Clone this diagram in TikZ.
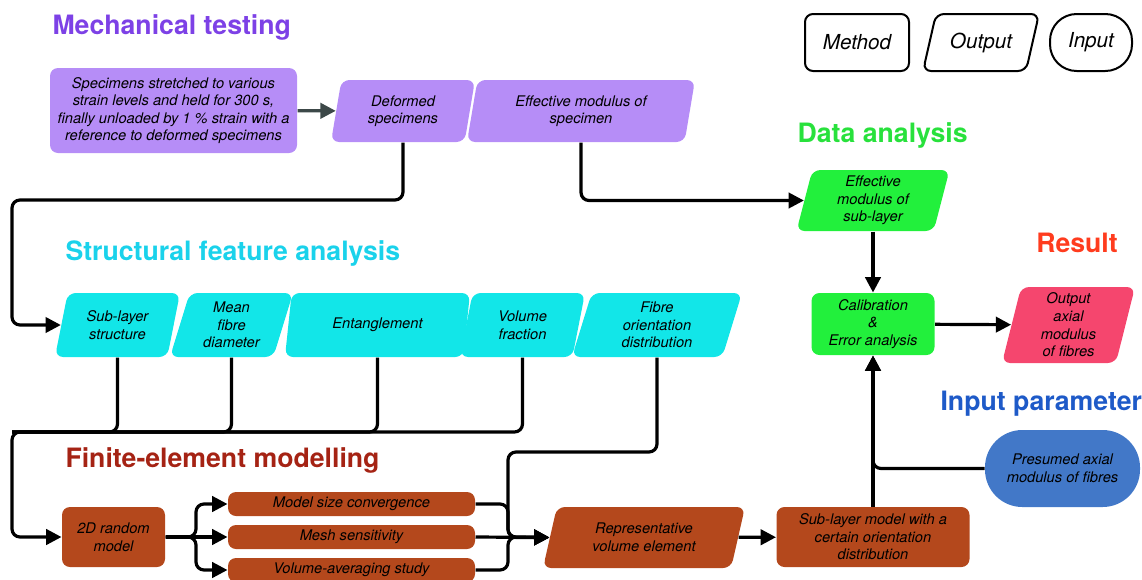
\documentclass[tikz,border=0pt]{standalone}
\usepackage{fontspec}
\setmainfont{TeX Gyre Heros}
\usetikzlibrary{shapes.geometric,arrows.meta}

\definecolor{mtTitle}{RGB}{125,65,230}
\definecolor{mtFill}{RGB}{182,141,247}
\definecolor{sfTitle}{RGB}{26,210,235}
\definecolor{sfFill}{RGB}{18,230,232}
\definecolor{daTitle}{RGB}{40,225,60}
\definecolor{daFill}{RGB}{34,240,60}
\definecolor{rsTitle}{RGB}{255,60,30}
\definecolor{rsFill}{RGB}{245,70,110}
\definecolor{ipTitle}{RGB}{30,90,200}
\definecolor{ipFill}{RGB}{66,120,200}
\definecolor{feTitle}{RGB}{165,35,20}
\definecolor{feFill}{RGB}{180,72,28}
\definecolor{darkline}{RGB}{60,72,72}

\tikzset{every picture/.style={line width=0.75pt}}

\begin{document}
\begin{tikzpicture}[x=0.75pt,y=0.75pt,yscale=-1,xscale=1,
	txt/.style={align=center, inner sep=1pt, font=\fontsize{11}{13.2}\selectfont\itshape},
	methodbox/.style={txt, rectangle, rounded corners=6pt},
	outputbox/.style={txt, trapezium, trapezium left angle=#1, trapezium right angle={180-#1}, trapezium stretches body, rounded corners=6pt},
	outputbox/.default=70,
	title/.style={anchor=west, inner sep=0pt, font=\fontsize{20}{24}\selectfont\bfseries},
	legend/.style={draw=black, line width=1.5pt, fill=white, minimum height=42.75pt, inner sep=1pt, font=\fontsize{15.5}{18}\selectfont\itshape},
	conn/.style={draw=black, line width=2.4pt, rounded corners=6pt},
	arr/.style={conn, -{Triangle[length=11.5pt,width=11.5pt]}}]
	\path[use as bounding box] (0,0) rectangle (1142,579);
	
	%Legend
	\node [methodbox, legend, minimum width=78pt] (lgmethod) at (857,42.5) {Method};
	\node [outputbox=60, legend, minimum width=87pt] (lgoutput) at (981,42.5) {Output};
	\node [txt, legend, rectangle, rounded corners=20pt, minimum width=61.5pt] (lginput) at (1091,42.5) {Input};
	
	% Text Node
	\node [title, text=mtTitle] (ttest) at (52,27) {Mechanical testing};
	\node [title, text=sfTitle] (tstruct) at (65,253) {Structural feature analysis};
	\node [title, text=feTitle] (tfem) at (65,460) {Finite-element modelling};
	\node [title, text=daTitle] (tdata) at (797,135) {Data analysis};
	\node [title, text=rsTitle, anchor=center] (tres) at (1077,243) {Result};
	\node [title, text=ipTitle] (tinput) at (940,404) {Input parameter};
	
	%Mechanical testing
	\node [methodbox, fill=mtFill, minimum width=185.25pt, minimum height=63.75pt] (spec) at (173.5,110.5) {Specimens stretched to various\\strain levels and held for 300 s,\\finally unloaded by 1 \% strain with a\\reference to deformed specimens};
	\node [outputbox=73, fill=mtFill, minimum width=108pt, minimum height=46.5pt] (deform) at (403,111) {Deformed\\specimens};
	\node [outputbox=73, fill=mtFill, minimum width=171pt, minimum height=46.5pt] (effspec) at (581,111) {Effective modulus of\\specimen};
	
	%Data analysis
	\node [outputbox=73, fill=daFill, minimum width=114.75pt, minimum height=45.75pt] (effsub) at (873,200.5) {Effective\\modulus of\\sub-layer};
	\node [methodbox, fill=daFill, minimum width=92.25pt, minimum height=46.5pt] (calib) at (873,324) {Calibration\\\&\\Error analysis};
	\node [outputbox=74, fill=rsFill, minimum width=99.75pt, minimum height=57pt] (outmod) at (1068.5,325) {Output\\axial\\modulus\\of fibres};
	\node [txt, rectangle, rounded corners=28pt, fill=ipFill, minimum width=116.25pt, minimum height=57.75pt] (presumed) at (1062.5,468.5) {Presumed axial\\modulus of fibres};
	
	%Structural feature analysis
	\node [outputbox=68, fill=sfFill, minimum width=93.75pt, minimum height=48pt] (sls) at (117.5,325) {Sub-layer\\structure};
	\node [outputbox=68, fill=sfFill, minimum width=92.25pt, minimum height=48pt] (mfd) at (231.5,325) {Mean\\fibre\\diameter};
	\node [outputbox=68, fill=sfFill, minimum width=138.75pt, minimum height=48pt] (ent) at (377.5,325) {Entanglement};
	\node [outputbox=68, fill=sfFill, minimum width=93.75pt, minimum height=48pt] (vf) at (522.5,325) {Volume\\fraction};
	\node [outputbox=68, fill=sfFill, minimum width=127.5pt, minimum height=48pt] (fod) at (657,325) {Fibre\\orientation\\distribution};
	
	%Finite-element modelling
	\node [methodbox, fill=feFill, minimum width=77.25pt, minimum height=45pt] (rand) at (113.5,537) {2D random\\model};
	\node [methodbox, fill=feFill, minimum width=185.25pt, minimum height=18pt] (msc) at (351.5,504) {Model size convergence};
	\node [methodbox, fill=feFill, minimum width=185.25pt, minimum height=18pt] (mesh) at (351.5,537) {Mesh sensitivity};
	\node [methodbox, fill=feFill, minimum width=185.25pt, minimum height=18pt] (vas) at (351.5,570) {Volume-averaging study};
	\node [outputbox=66, fill=feFill, minimum width=151.5pt, minimum height=45.75pt] (rve) at (644,537.5) {Representative\\volume element};
	\node [methodbox, fill=feFill, minimum width=144.75pt, minimum height=45pt] (slm) at (873,537) {Sub-layer model with a\\certain orientation\\distribution};
	
	%Connectors
	\coordinate (topl) at (12,200);
	\coordinate (busl) at (12,432);
	\coordinate (split) at (196,537);
	\coordinate (merge) at (508,537);
	\coordinate (fodbend) at (508,452);
	
	\draw [arr, draw=darkline] (spec) -- (deform);
	\draw [arr] (deform.south) |- (topl) |- (sls.west);
	\draw [arr] (effspec.south) |- (effsub.west);
	\draw [arr] (effsub) -- (calib);
	\draw [arr] (calib) -- (outmod);
	\draw [arr] (slm) -- (calib);
	\draw [arr] (presumed.west) -| (calib.south);
	
	\draw [conn] (sls.south) |- (busl);
	\draw [conn] (mfd.south) |- (busl);
	\draw [conn] (ent.south) |- (busl);
	\draw [arr] (vf.south) |- (busl) |- (rand.west);
	\draw [arr] (fod.south) |- (fodbend) |- (rve.west);
	
	\draw [arr] (rand.east) -- (split) |- (msc.west);
	\draw [arr] (rand.east) -- (mesh.west);
	\draw [arr] (rand.east) -- (split) |- (vas.west);
	\draw [arr] (msc.east) -| (merge) -- (rve.west);
	\draw [arr] (mesh.east) -- (rve.west);
	\draw [arr] (vas.east) -| (merge) -- (rve.west);
	\draw [arr] (rve) -- (slm);
	
\end{tikzpicture}
\end{document}
